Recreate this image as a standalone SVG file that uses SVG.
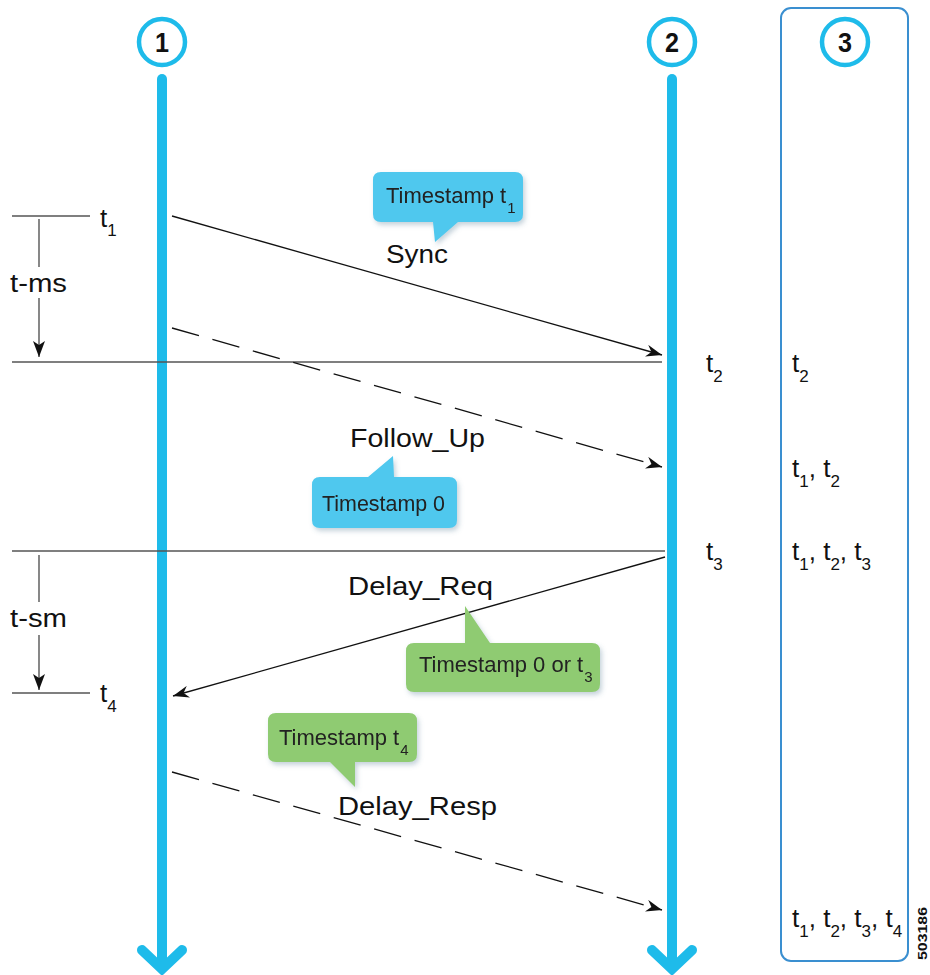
<svg xmlns="http://www.w3.org/2000/svg" width="930" height="975" viewBox="0 0 930 975">
<defs>
<style>
.life{stroke:#1EBBEA;stroke-width:10;stroke-linecap:round;fill:none}
.num{fill:none;stroke:#1EBBEA;stroke-width:4.5}
.numt{font-family:"Liberation Sans",Arial,sans-serif;font-weight:bold;font-size:27px;fill:#111;text-anchor:middle}
.lbl{font-family:"Liberation Sans",Arial,sans-serif;font-size:26px;fill:#111}
.sub{font-family:"Liberation Sans",Arial,sans-serif;font-size:17px;fill:#111}
.ct{font-family:"Liberation Sans",Arial,sans-serif;font-size:22px;fill:#222}
.cs{font-size:15px}
.msg{stroke:#111;stroke-width:1.3;fill:none}
.dash{stroke-dasharray:28 14}
.hl{stroke:#555;stroke-width:1.4;fill:none}
.blue{fill:#4FC8EE}
.green{fill:#8FCB72}
</style>
<marker id="ah" viewBox="0 0 16 12" refX="16" refY="6" markerWidth="16" markerHeight="12" markerUnits="userSpaceOnUse" orient="auto">
<path d="M0,0 L16,6 L0,12 L5,6 z" fill="#111"/>
</marker>
<marker id="ahd" viewBox="0 0 12 16" refX="6" refY="16" markerWidth="12" markerHeight="16" markerUnits="userSpaceOnUse" orient="0">
<path d="M0,0 L6,4 L12,0 L6,16 z" fill="#111"/>
</marker>
<filter id="sh" x="-10%" y="-10%" width="130%" height="140%">
<feDropShadow dx="2" dy="3" stdDeviation="2.5" flood-color="#5a7f99" flood-opacity="0.35"/>
</filter>
</defs>
<rect width="930" height="975" fill="#fff"/>

<g id="node1">
<circle class="num" cx="162" cy="42" r="23"/>
<text class="numt" x="162" y="52" textLength="14" lengthAdjust="spacingAndGlyphs">1</text>
<line class="life" x1="162" y1="79" x2="162" y2="968"/>
<path class="life" d="M142,950 L162,969 L182,950"/>
</g>

<g id="node2">
<circle class="num" cx="672" cy="42" r="23"/>
<text class="numt" x="672" y="52" textLength="14" lengthAdjust="spacingAndGlyphs">2</text>
<line class="life" x1="672" y1="79" x2="672" y2="968"/>
<path class="life" d="M652,950 L672,969 L692,950"/>
</g>

<g id="node3">
<rect x="781" y="8" width="127" height="953" rx="10" fill="none" stroke="#3A8FD0" stroke-width="2"/>
<circle class="num" cx="845" cy="42" r="23"/>
<text class="numt" x="845" y="52" textLength="14" lengthAdjust="spacingAndGlyphs">3</text>
</g>

<g id="connectors">
<line class="hl" x1="12" y1="216" x2="90" y2="216"/>
<line class="hl" x1="39" y1="219" x2="39" y2="267"/>
<line class="hl" x1="39" y1="298" x2="39" y2="357" marker-end="url(#ahd)"/>
<line class="hl" x1="12" y1="362" x2="662" y2="362"/>
<line class="hl" x1="12" y1="551" x2="665" y2="551"/>
<line class="hl" x1="39" y1="555" x2="39" y2="602"/>
<line class="hl" x1="39" y1="635" x2="39" y2="690" marker-end="url(#ahd)"/>
<line class="hl" x1="12" y1="693" x2="90" y2="693"/>

<line class="msg" x1="172" y1="216" x2="662" y2="355" marker-end="url(#ah)"/>
<line class="msg dash" x1="172" y1="328" x2="662" y2="467" marker-end="url(#ah)"/>
<line class="msg" x1="665" y1="557" x2="173" y2="696" marker-end="url(#ah)"/>
<line class="msg dash" x1="172" y1="772" x2="662" y2="910" marker-end="url(#ah)"/>
</g>

<g id="labels">
<text class="lbl" x="100" y="227">t<tspan class="sub" dy="9">1</tspan></text>
<text class="lbl" x="10" y="292" textLength="57" lengthAdjust="spacingAndGlyphs">t-ms</text>
<text class="lbl" x="10" y="627" textLength="57" lengthAdjust="spacingAndGlyphs">t-sm</text>
<text class="lbl" x="100" y="702">t<tspan class="sub" dy="10">4</tspan></text>

<text class="lbl" x="386" y="263" textLength="62" lengthAdjust="spacingAndGlyphs">Sync</text>
<text class="lbl" x="350" y="447" textLength="135" lengthAdjust="spacingAndGlyphs">Follow_Up</text>
<text class="lbl" x="348" y="595" textLength="145" lengthAdjust="spacingAndGlyphs">Delay_Req</text>
<text class="lbl" x="338" y="815" textLength="159" lengthAdjust="spacingAndGlyphs">Delay_Resp</text>

<text class="lbl" x="706" y="372">t<tspan class="sub" dy="10">2</tspan></text>
<text class="lbl" x="706" y="560">t<tspan class="sub" dy="10">3</tspan></text>

<text class="lbl" x="792" y="372">t<tspan class="sub" dy="10">2</tspan></text>
<text class="lbl" x="792" y="477">t<tspan class="sub" dy="10">1</tspan><tspan dy="-10">, t</tspan><tspan class="sub" dy="10">2</tspan></text>
<text class="lbl" x="792" y="560">t<tspan class="sub" dy="10">1</tspan><tspan dy="-10">, t</tspan><tspan class="sub" dy="10">2</tspan><tspan dy="-10">, t</tspan><tspan class="sub" dy="10">3</tspan></text>
<text class="lbl" x="792" y="927">t<tspan class="sub" dy="10">1</tspan><tspan dy="-10">, t</tspan><tspan class="sub" dy="10">2</tspan><tspan dy="-10">, t</tspan><tspan class="sub" dy="10">3</tspan><tspan dy="-10">, t</tspan><tspan class="sub" dy="10">4</tspan></text>

<text x="927" y="960" transform="rotate(-90 927 960)" font-family="Liberation Sans, Arial, sans-serif" font-size="13" font-weight="bold" fill="#111" textLength="53" lengthAdjust="spacingAndGlyphs">503186</text>
</g>

<g id="callout-sync" filter="url(#sh)">
<path class="blue" d="M381,172 H515 Q523,172 523,180 V214 Q523,222 515,222 H458 L435,242 L433,222 H381 Q373,222 373,214 V180 Q373,172 381,172 Z"/>
<text class="ct" x="386" y="203">Timestamp t<tspan class="cs" dx="1" dy="10">1</tspan></text>
</g>

<g id="callout-followup" filter="url(#sh)">
<path class="blue" d="M320,477 H368 L393,456 L394,477 H449 Q457,477 457,485 V520 Q457,528 449,528 H320 Q312,528 312,520 V485 Q312,477 320,477 Z"/>
<text class="ct" x="322" y="511" textLength="123" lengthAdjust="spacingAndGlyphs">Timestamp 0</text>
</g>

<g id="callout-delayreq" filter="url(#sh)">
<path class="green" d="M414,643 H465 L465,606 L490,643 H592 Q600,643 600,651 V684 Q600,692 592,692 H414 Q406,692 406,684 V651 Q406,643 414,643 Z"/>
<text class="ct" x="419" y="672">Timestamp 0 or t<tspan class="cs" dx="1" dy="10">3</tspan></text>
</g>

<g id="callout-delayresp" filter="url(#sh)">
<path class="green" d="M276,713 H409 Q417,713 417,721 V754 Q417,762 409,762 H355 L355,787 L330,762 H276 Q268,762 268,754 V721 Q268,713 276,713 Z"/>
<text class="ct" x="279" y="745">Timestamp t<tspan class="cs" dx="1" dy="10">4</tspan></text>
</g>
</svg>
